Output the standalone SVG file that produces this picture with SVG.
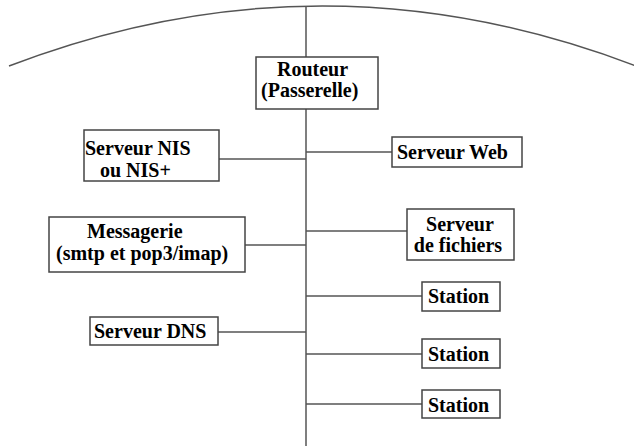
<svg xmlns="http://www.w3.org/2000/svg" width="634" height="446" viewBox="0 0 634 446">
<style>
.box{fill:#fff;stroke:#444;stroke-width:1.5}
.ln{fill:none;stroke:#555;stroke-width:1.5}
text{font-family:"Liberation Serif","Times New Roman",serif;font-weight:bold;font-size:20px;fill:#000}
</style>
<rect width="634" height="446" fill="#fff"/>
<path class="ln" d="M9,66 Q322,-54 636,66" stroke-width="1.3"/>
<g id="connectors">
<line class="ln" x1="306" y1="7" x2="306" y2="446"/>
<line class="ln" x1="219" y1="159" x2="306" y2="159"/>
<line class="ln" x1="306" y1="152" x2="392" y2="152"/>
<line class="ln" x1="306" y1="231" x2="407" y2="231"/>
<line class="ln" x1="245" y1="245" x2="306" y2="245"/>
<line class="ln" x1="306" y1="296" x2="422" y2="296"/>
<line class="ln" x1="218" y1="332" x2="306" y2="332"/>
<line class="ln" x1="306" y1="354" x2="422" y2="354"/>
<line class="ln" x1="306" y1="404" x2="422" y2="404"/>
</g>
<g id="routeur">
<rect class="box" x="256" y="57" width="122" height="52"/>
<text x="277" y="76">Routeur</text>
<text x="261" y="97">(Passerelle)</text>
</g>
<g id="nis">
<rect class="box" x="84" y="130" width="135" height="51"/>
<text x="85" y="155">Serveur NIS</text>
<text x="100" y="177">ou NIS+</text>
</g>
<g id="web">
<rect class="box" x="392" y="137" width="130" height="30"/>
<text x="397" y="159">Serveur Web</text>
</g>
<g id="fichiers">
<rect class="box" x="407" y="209" width="107" height="51"/>
<text x="460" y="231" text-anchor="middle">Serveur</text>
<text x="458" y="252" text-anchor="middle">de fichiers</text>
</g>
<g id="messagerie">
<rect class="box" x="49" y="217" width="196" height="55"/>
<text x="87" y="238">Messagerie</text>
<text x="56" y="260">(smtp et pop3/imap)</text>
</g>
<g id="station1">
<rect class="box" x="422" y="282" width="78" height="29"/>
<text x="428" y="303">Station</text>
</g>
<g id="dns">
<rect class="box" x="90" y="317" width="128" height="28"/>
<text x="94" y="338">Serveur DNS</text>
</g>
<g id="station2">
<rect class="box" x="422" y="339" width="78" height="29"/>
<text x="428" y="361">Station</text>
</g>
<g id="station3">
<rect class="box" x="422" y="390" width="78" height="28"/>
<text x="428" y="412">Station</text>
</g>
</svg>
